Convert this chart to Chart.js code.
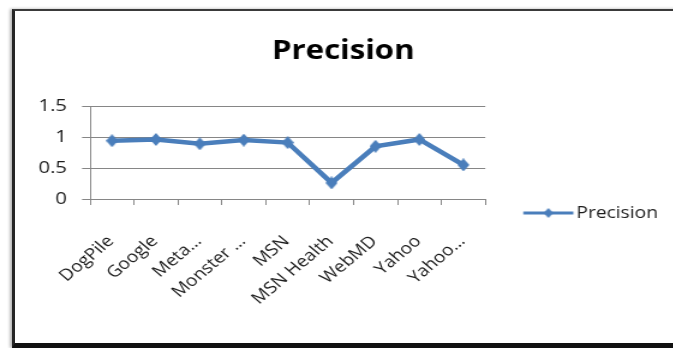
<!DOCTYPE html>
<html>
<head>
<meta charset="utf-8">
<script src="https://cdn.jsdelivr.net/npm/chart.js@4.4.0/dist/chart.umd.min.js"></script>
<style>
  html, body { margin: 0; padding: 0; background: #fff; overflow: hidden; width: 673px; height: 348px; }
  #frame {
    position: absolute; left: 12px; top: 9px; width: 900px; height: 332px;
    border-left: 3px solid #262626; border-top: 2px solid #3a3a3a; border-bottom: 5px solid #111;
    box-shadow: -2px 0 3px rgba(0, 0, 0, 0.3);
  }
  #chart { position: absolute; left: 0; top: 0; }
</style>
</head>
<body>
<div id="frame"></div>
<canvas id="chart"></canvas>
<script>
const categories = ['DogPile', 'Google', 'Meta…', 'Monster …', 'MSN', 'MSN Health', 'WebMD', 'Yahoo', 'Yahoo…'];
const precision = [0.94, 0.96, 0.89, 0.95, 0.91, 0.26, 0.85, 0.96, 0.55];
const yTicks = [0, 0.5, 1, 1.5];
const seriesName = 'Precision';
const chartTitle = 'Precision';

// the whole chart is drawn narrow and widened by CSS
const SX = 1.2;
const PAGE_W = 700, PAGE_H = 426;
const W = Math.round(PAGE_W / SX), H = PAGE_H;

const BLUE = '#4a7ebb';
const GRID = '#868686';
const INK = '#1c1c1c';
const FAMILY = "'Open Sans', sans-serif";

// plot box in page pixels
const PLOT_L = 90, PLOT_R = 485, PLOT_T = 106, PLOT_B = 199;

const canvas = document.getElementById('chart');
canvas.width = W;
canvas.height = H;
canvas.style.width = PAGE_W + 'px';
canvas.style.height = PAGE_H + 'px';

// diamond marker, kept square on the page
function diamond(w, h) {
  const c = document.createElement('canvas');
  c.width = w; c.height = h;
  const g = c.getContext('2d');
  g.fillStyle = BLUE;
  g.beginPath();
  g.moveTo(w / 2, 0); g.lineTo(w, h / 2); g.lineTo(w / 2, h); g.lineTo(0, h / 2);
  g.closePath();
  g.fill();
  return c;
}
const marker = diamond(10, 13);

// legend: line with a diamond, then the text
const legFont = 16, legPad = 10;
const boxX = PLOT_R / SX + legPad;
const boxW = 576 / SX - legFont / 2 - boxX;
const boxC = boxX + boxW / 2;
const lineA = 523 / SX, lineB = 573 / SX;
const half = Math.ceil(Math.max(boxC - lineA, lineB - boxC)) + 1;
const legendIcon = (() => {
  const c = document.createElement('canvas');
  c.width = half * 2; c.height = 12;
  const g = c.getContext('2d');
  const off = boxC - half;
  g.strokeStyle = BLUE;
  g.lineWidth = 3;
  g.beginPath();
  g.moveTo(lineA - off, 6); g.lineTo(lineB - off, 6);
  g.stroke();
  const d = diamond(8, 10);
  g.drawImage(d, (lineA + lineB) / 2 - off - 4, 1);
  return c;
})();

// legend box width as the legend plugin measures it
const mctx = document.createElement('canvas').getContext('2d');
mctx.font = legFont + 'px ' + FAMILY;
const legendWidth = legPad + boxW + legFont / 2 + mctx.measureText(seriesName).width + 10;
const padR = W - PLOT_R / SX - legendWidth;
const padL = 2 * (343 / SX) - W + padR;

new Chart(canvas, {
  type: 'line',
  data: {
    labels: categories,
    datasets: [{
      label: seriesName,
      data: precision,
      borderColor: BLUE,
      backgroundColor: BLUE,
      borderWidth: 4.5,
      pointStyle: marker,
      pointRadius: 5,
      tension: 0
    }]
  },
  options: {
    responsive: false,
    animation: false,
    devicePixelRatio: 1,
    events: [],
    layout: { padding: { left: padL, right: padR, top: 0, bottom: 0 } },
    plugins: {
      title: {
        display: true,
        text: chartTitle,
        color: '#000',
        font: { family: FAMILY, size: 26, weight: 'bold' },
        padding: { top: 36, bottom: PLOT_T - 36 - 31.2 }
      },
      legend: {
        position: 'right',
        align: 'center',
        maxWidth: 300,
        labels: {
          usePointStyle: true,
          pointStyle: legendIcon,
          pointStyleWidth: boxW,
          padding: legPad,
          color: INK,
          font: { family: FAMILY, size: legFont }
        }
      },
      tooltip: { enabled: false }
    },
    scales: {
      x: {
        offset: true,
        afterFit: s => { s.height = H - PLOT_B; },
        grid: { drawOnChartArea: false, offset: true, color: GRID, tickLength: 6 },
        border: { color: GRID },
        ticks: {
          autoSkip: false, maxRotation: 45, minRotation: 45, padding: 27, labelOffset: -1,
          color: INK, font: { family: FAMILY, size: 16 }
        }
      },
      y: {
        min: 0,
        max: 1.5,
        afterBuildTicks: s => { s.ticks = yTicks.map(v => ({ value: v })); },
        afterFit: s => { s.width = PLOT_L / SX - padL; },
        grid: { color: GRID, tickLength: 8 / SX },
        border: { color: GRID },
        ticks: {
          padding: 12.5,
          color: INK,
          font: { family: FAMILY, size: 17 },
          callback: v => String(v)
        }
      }
    }
  }
});
</script>
</body>
</html>
